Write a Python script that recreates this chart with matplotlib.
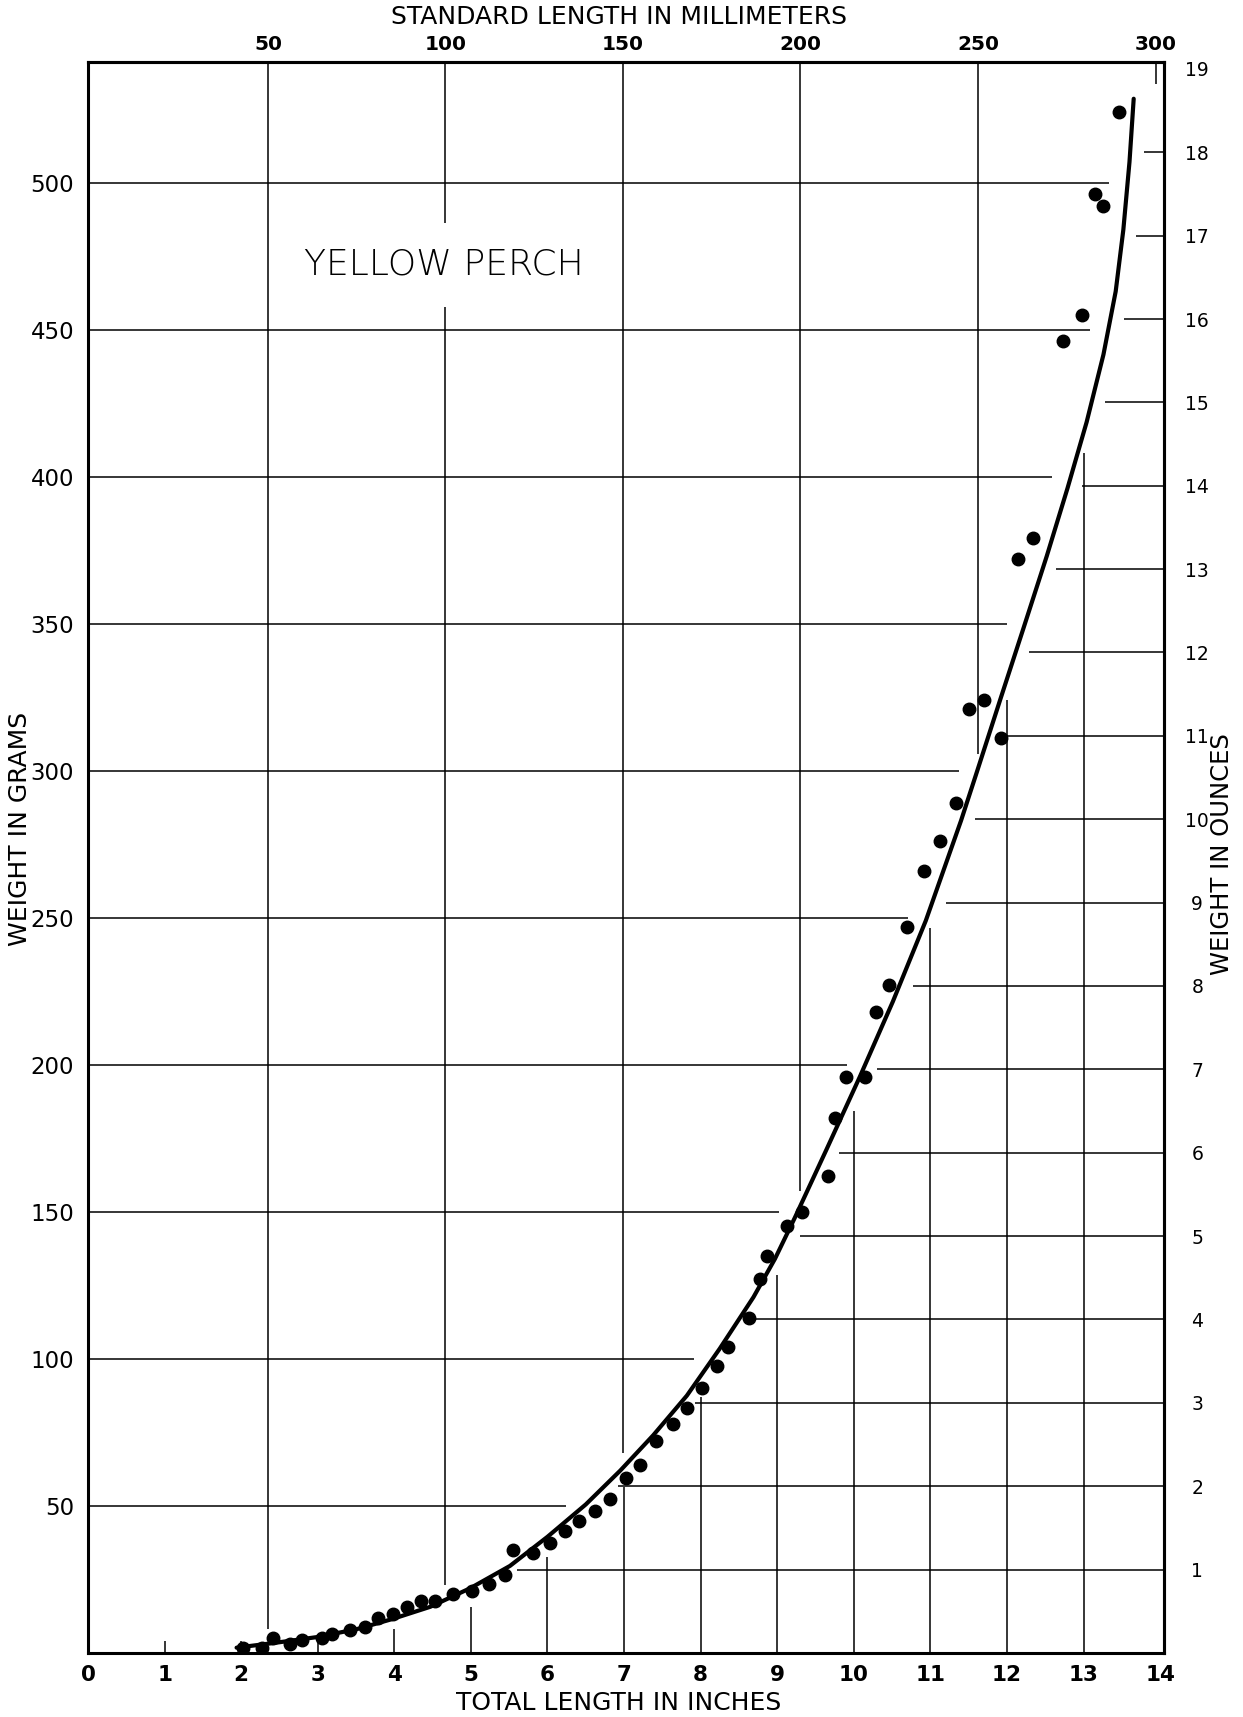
import numpy as np
import matplotlib
matplotlib.use("Agg")
import matplotlib.pyplot as plt

# Yellow perch: weight vs total length

# fitted curve, total length (in) -> weight (g)
curve_in = [1.94, 2.46, 2.99, 3.51, 3.97, 4.47, 4.99, 5.51, 6.0, 6.5, 6.95, 7.38,
            7.82, 8.25, 8.69, 8.97, 9.23, 9.64, 10.08, 10.51, 10.94, 11.4, 11.6,
            11.91, 12.21, 12.52, 12.79, 13.04, 13.26, 13.42, 13.52, 13.60, 13.655]
curve_g = [1.8, 3.5, 5.4, 8.1, 11.5, 15.7, 22.0, 29.6, 39.5, 50.5, 62.0, 74.0,
           87.5, 103.5, 121.0, 134.0, 148.0, 171.0, 196.0, 221.5, 249.0, 283.0, 299.0,
           324.0, 348.0, 373.0, 396.0, 418.5, 441.5, 463.0, 484.0, 507.0, 528.5]

# observed averages
obs_in = [2.03, 2.27, 2.42, 2.64, 2.79, 3.05, 3.18, 3.42, 3.62, 3.79, 3.98, 4.17,
          4.35, 4.53, 4.77, 5.01, 5.23, 5.44, 5.55, 5.81, 6.03, 6.23, 6.41, 6.62,
          6.81, 7.03, 7.21, 7.42, 7.64, 7.82, 8.02, 8.21, 8.36, 8.63, 8.77, 8.87,
          9.13, 9.32, 9.66, 9.76, 9.90, 10.14, 10.29, 10.46, 10.70, 10.92, 11.13,
          11.33, 11.50, 11.70, 11.92, 12.15, 12.34, 12.73, 12.98, 13.15, 13.26, 13.46]
obs_g = [1.8, 1.8, 5.0, 3.2, 4.3, 5.2, 6.4, 7.7, 8.8, 12.0, 13.4, 15.7,
         17.7, 17.5, 20.2, 20.9, 23.6, 26.5, 35.0, 34.1, 37.4, 41.5, 44.8, 48.3,
         52.5, 59.4, 64.0, 72.1, 78.0, 83.3, 90.0, 97.6, 103.9, 113.9, 127.0, 134.9,
         145.2, 149.8, 162.3, 182.0, 196.0, 195.8, 218.0, 227.0, 247.0, 266.0, 276.0,
         289.0, 321.0, 324.0, 311.0, 372.0, 379.0, 446.0, 455.0, 496.0, 492.0, 524.0]

gram_ticks = [50, 100, 150, 200, 250, 300, 350, 400, 450, 500]
inch_ticks = list(range(0, 15))
mm_ticks = [50, 100, 150, 200, 250, 300]
oz_ticks = list(range(1, 20))

G_PER_OZ = 28.35
MM0, MM_SLOPE = 0.032, 0.04636   # standard length scale drawn against total length


def mm_to_in(mm):
    return MM0 + MM_SLOPE * np.asarray(mm, dtype=float)


def in_to_mm(x):
    return (np.asarray(x, dtype=float) - MM0) / MM_SLOPE


def curve_at(x):
    return np.interp(x, curve_in, curve_g)


def curve_x_at(g):
    return np.interp(g, curve_g, curve_in)


plt.rcParams["font.family"] = ["DejaVu Sans"]

fig = plt.figure(figsize=(12.43, 17.17), dpi=100, facecolor="white")
ax = fig.add_axes([0.0708, 0.0373, 0.8656, 0.9266])
XMAX, YMAX = 14.05, 541
ax.set_xlim(0, XMAX)
ax.set_ylim(0, YMAX)

LW = 1.1
kw = dict(color="black", lw=LW, zorder=1, solid_capstyle="butt")

# grams: from the left up to the curve
for g in gram_ticks:
    ax.plot([0, curve_x_at(g) - 0.24], [g, g], **kw)
# ounces: from the right back to the curve
for oz in oz_ticks[:-1]:
    w = oz * G_PER_OZ
    ax.plot([curve_x_at(w) + 0.18, XMAX], [w, w], **kw)
# inches: from the bottom up to the curve
for x in inch_ticks[1:-1]:
    c = curve_at(x)
    top = max(c - min(7, 0.3 * c), 4)
    ax.plot([x, x], [0, top], **kw)
# millimeters: from the top down to the curve
for mm in mm_ticks:
    x = mm_to_in(mm)
    ax.plot([x, x], [curve_at(x) + 5, YMAX], **kw)

ax.plot(curve_in, curve_g, color="black", lw=3.0, zorder=3,
        solid_joinstyle="round", solid_capstyle="round")
ax.plot(obs_in, obs_g, "o", color="black", ms=9, zorder=4)

ax.text(4.65, 472, "YELLOW PERCH", fontsize=26, fontweight="light",
        ha="center", va="center", zorder=5,
        bbox=dict(boxstyle="square,pad=0.7", facecolor="white", edgecolor="none"))

# axes and labels
for s in ax.spines.values():
    s.set_linewidth(2.2)
ax.set_xticks(inch_ticks)
ax.set_xticklabels([str(i) for i in inch_ticks], fontsize=15.5, fontweight="bold")
ax.set_yticks(gram_ticks)
ax.set_yticklabels([str(g) for g in gram_ticks], fontsize=16.5)
ax.tick_params(axis="x", length=0, pad=9)
ax.tick_params(axis="y", length=0, pad=10)

top = ax.secondary_xaxis("top", functions=(in_to_mm, mm_to_in))
top.set_xticks(mm_ticks)
top.set_xticklabels([str(m) for m in mm_ticks], fontsize=14.5, fontweight="bold")
top.tick_params(length=0, pad=6)
top.spines["top"].set_linewidth(2.2)

right = ax.secondary_yaxis("right", functions=(lambda g: np.asarray(g) / G_PER_OZ,
                                               lambda oz: np.asarray(oz) * G_PER_OZ))
right.set_yticks(oz_ticks)
right.set_yticklabels([str(o) for o in oz_ticks], fontsize=13.5, ha="center")
right.tick_params(length=0, pad=24)
right.spines["right"].set_linewidth(2.2)

fig.text(619 / 1243, 1 - 17.5 / 1717, "STANDARD LENGTH IN MILLIMETERS",
         fontsize=18, ha="center", va="center")
fig.text(619 / 1243, 1 - 1703 / 1717, "TOTAL LENGTH IN INCHES",
         fontsize=18, ha="center", va="center")
fig.text(20 / 1243, 1 - 829 / 1717, "WEIGHT IN GRAMS",
         fontsize=18, ha="center", va="center", rotation=90)
fig.text(1222 / 1243, 1 - 854 / 1717, "WEIGHT IN OUNCES",
         fontsize=17.5, ha="center", va="center", rotation=90)

fig.savefig("out.png", dpi=100, facecolor="white")
